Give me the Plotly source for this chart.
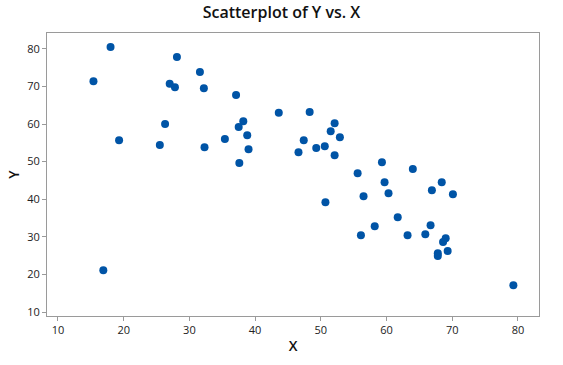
import plotly.graph_objects as go

x_vals = [18.0, 15.4, 28.1, 31.6, 27.0, 27.8, 32.2, 37.1, 43.6, 26.3, 38.2, 37.5, 38.8,
          19.3, 35.4, 25.5, 32.3, 39.0, 37.6, 16.9,
          48.3, 52.1, 51.5, 52.9, 47.4, 46.6, 49.3, 50.6, 52.1, 59.3, 55.6, 64.0, 59.7,
          68.4, 66.9, 60.3, 70.1, 56.5, 50.7, 61.7, 58.2, 66.7, 56.1, 63.2, 65.9,
          69.0, 68.6, 67.8, 67.8, 69.3, 79.3]
y_vals = [80.5, 71.4, 77.8, 73.8, 70.7, 69.8, 69.5, 67.7, 63.0, 60.0, 60.75, 59.2, 57.0,
          55.7, 56.0, 54.4, 53.8, 53.3, 49.6, 21.1,
          63.2, 60.2, 58.1, 56.5, 55.7, 52.5, 53.6, 54.1, 51.7, 49.8, 46.9, 48.0, 44.5,
          44.5, 42.4, 41.6, 41.3, 40.8, 39.2, 35.2, 32.8, 33.1, 30.4, 30.4, 30.7,
          29.6, 28.6, 25.6, 24.9, 26.2, 17.1]

x_ticks = [10, 20, 30, 40, 50, 60, 70, 80]
y_ticks = [10, 20, 30, 40, 50, 60, 70, 80]

font_family = "Open Sans, Noto Sans, DejaVu Sans, sans-serif"

fig = go.Figure(go.Scatter(
    x=x_vals, y=y_vals, mode="markers",
    marker=dict(size=8, color="#0054A6", line=dict(width=0)),
    hoverinfo="x+y",
))

axis_common = dict(
    showline=True, linecolor="#9a9a9a", linewidth=1, mirror=True,
    ticks="outside", ticklen=4, tickcolor="#9a9a9a", tickwidth=1,
    showgrid=False, zeroline=False, automargin=False,
    tickfont=dict(family=font_family, size=11, color="#222222"),
)

fig.update_layout(
    width=563, height=365,
    margin=dict(l=47, r=24, t=33, b=49),
    paper_bgcolor="white", plot_bgcolor="white",
    showlegend=False,
    title=dict(text="Scatterplot of Y vs. X", x=0.5, xanchor="center", y=0.965, yanchor="middle",
               pad=dict(t=0),
               font=dict(family=font_family, size=16, color="#111111", weight=600)),
    xaxis=dict(range=[8.33, 83.2], tickvals=x_ticks, ticktext=[str(v) for v in x_ticks],
               title=dict(text="X", font=dict(family=font_family, size=14, color="#111111", weight=600), standoff=4),
               **axis_common),
    yaxis=dict(range=[8.94, 84.2], tickvals=y_ticks, ticktext=[str(v) for v in y_ticks],
               title=dict(text="Y", font=dict(family=font_family, size=14, color="#111111", weight=600), standoff=4),
               **axis_common),
)

# remove the browser's default 8px body margin so the figure fills the window exactly
fig.write_html("out.html", config={"displayModeBar": False},
               post_script="document.body.style.margin='0';")
